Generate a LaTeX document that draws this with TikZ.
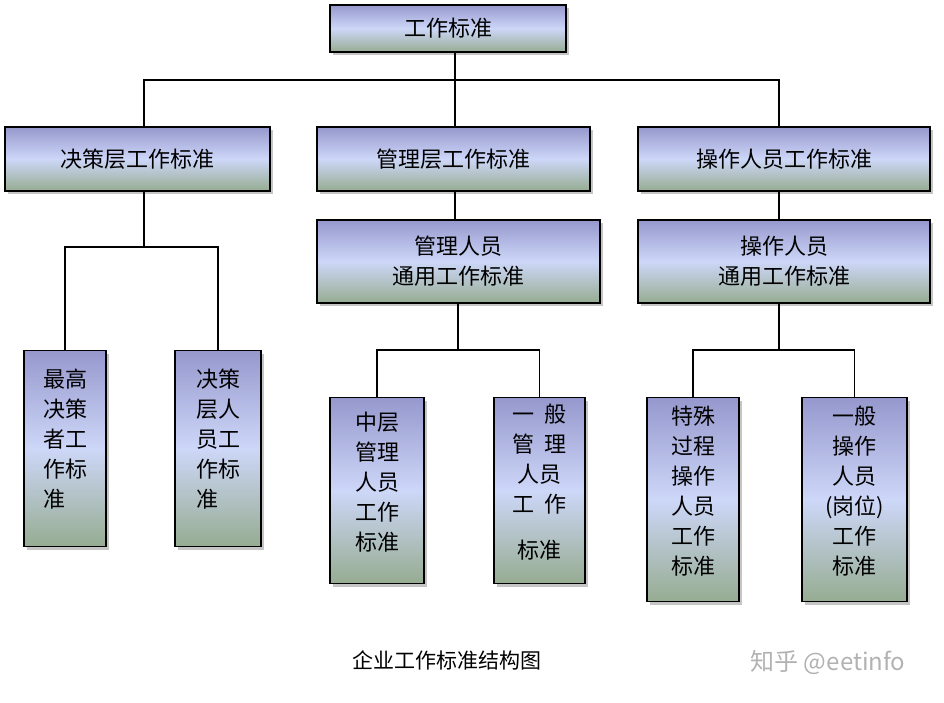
\documentclass[tikz,border=0pt]{standalone}
\usepackage{fontspec}
\setmainfont{Noto Sans CJK SC}
\usetikzlibrary{shadows,positioning}
\definecolor{boxtop}{RGB}{150,152,205}
\definecolor{boxmid}{RGB}{205,215,248}
\definecolor{boxbot}{RGB}{150,172,145}
\tikzset{
  box/.style={draw=black,line width=1.4pt,top color=boxtop,bottom color=boxbot,middle color=boxmid,
    drop shadow={shadow xshift=3pt,shadow yshift=-3pt,fill=black!45},
    font=\fontsize{22}{30}\selectfont,inner sep=0pt},
  leaf/.style={box,align=left,anchor=north},
  link/.style={line width=1.2pt}
}
\begin{document}
\begin{tikzpicture}[x=1pt,y=-1pt]
	\useasboundingbox (0,0) rectangle (944,703);
	% top level
	\node[box,minimum width=236pt,minimum height=47pt] (top) at (448,28.5) {工作标准};
	\node[box,minimum width=265pt,minimum height=64pt] (dec) at (137.5,159) {决策层工作标准};
	\node[box,minimum width=273pt,minimum height=64pt] (man) at (453.5,159) {管理层工作标准};
	\node[box,minimum width=292pt,minimum height=64pt] (op) at (784,159) {操作人员工作标准};
	% second level
	\node[box,minimum width=283pt,minimum height=83pt,align=center] (mang) at (458.5,261.5) {管理人员\\通用工作标准};
	\node[box,minimum width=292pt,minimum height=83pt,align=center] (opg) at (784,261.5) {操作人员\\通用工作标准};
	% leaves
	\node[leaf,minimum width=82pt,minimum height=196pt] (d1) at (65,350) {\\[-30pt]最高\\决策\\者工\\作标\\准};
	\node[leaf,minimum width=86pt,minimum height=196pt] (d2) at (218,350) {\\[-30pt]决策\\层人\\员工\\作标\\准};
	\node[leaf,minimum width=94pt,minimum height=186pt,align=center] (m1) at (377,397) {\\[-28pt]中层\\管理\\人员\\工作\\标准};
	\node[leaf,minimum width=91pt,minimum height=186pt,align=center] (m2) at (539.5,397) {\\[-28pt]一\ \ 般\\管\ \ 理\\人员\\工\ \ 作\\[16pt]标准};
	\node[leaf,minimum width=92pt,minimum height=204pt,align=center] (o1) at (693,397) {\\[-28pt]特殊\\过程\\操作\\人员\\工作\\标准};
	\node[leaf,minimum width=105pt,minimum height=204pt,align=center] (o2) at (854.5,397) {\\[-28pt]一般\\操作\\人员\\(岗位)\\工作\\标准};
	% connectors
	\coordinate (j0) at (455,80);
	\draw[link] (top.south -| j0) -- (j0);
	\draw[link] (dec.north) ++(6.5,0) |- (j0) -| (op.north -| 779,0);
	\draw[link] (j0) -- (man.north -| j0);
	\coordinate (j1) at (144,247);
	\draw[link] (dec.south -| j1) -- (j1);
	\draw[link] (d1.north) |- (j1) -| (d2.north);
	\draw[link] (man.south -| 455,0) -- (mang.north -| 455,0);
	\coordinate (j2) at (458,350);
	\draw[link] (mang.south -| j2) -- (j2);
	\draw[link] (m1.north) |- (j2) -| (m2.north);
	\coordinate (j3) at (779,350);
	\draw[link] (op.south -| j3) -- (opg.north -| j3);
	\draw[link] (opg.south -| j3) -- (j3);
	\draw[link] (o1.north) |- (j3) -| (o2.north);
	% caption
	\node[font=\fontsize{21}{24}\selectfont] (cap) at (447,660) {企业工作标准结构图};
	\node[font=\fontsize{24}{26}\selectfont,text=black!30] (wm) at (828,662) {知乎 @eetinfo};
\end{tikzpicture}
\end{document}
